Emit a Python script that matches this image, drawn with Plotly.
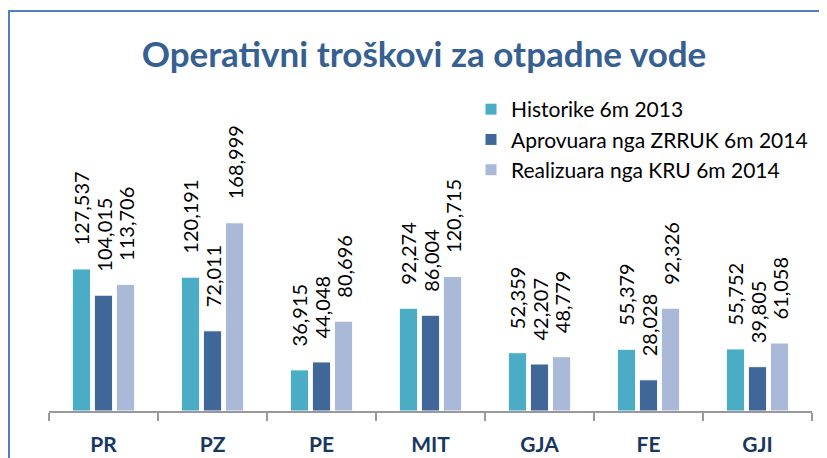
import plotly.graph_objects as go

categories = ["PR", "PZ", "PE", "MIT", "GJA", "FE", "GJI"]
series_names = ["Historike 6m 2013", "Aprovuara nga ZRRUK 6m 2014", "Realizuara nga KRU 6m 2014"]
historike = [127537, 120191, 36915, 92274, 52359, 55379, 55752]
aprovuara = [104015, 72011, 44048, 86004, 42207, 28028, 39805]
realizuara = [113706, 168999, 80696, 120715, 48779, 92326, 61058]
colors = ["#4BACC6", "#3F6898", "#AAB9D8"]

# page body adds an 8px offset; figure coordinates = screen - 8
OFF = 8
W, H = 827 - OFF, 458 - OFF
L, R, T, B = 49 - OFF, 15, 100 - OFF, 47
pw, ph = W - L - R, H - T - B
ymax = ph / 0.0011137

fig = go.Figure()
pad = "\u00a0" * 4
for name, vals, col in zip(series_names, [historike, aprovuara, realizuara], colors):
    fig.add_trace(go.Bar(
        x=categories, y=vals, name=name,
        marker=dict(color=col, line=dict(color="white", width=1)),
        text=[pad + f"{v:,}" for v in vals],
        textposition="outside", textangle=-90, cliponaxis=False,
        constraintext="none",
        textfont=dict(family="Lato", size=20, color="#000000"),
        hoverinfo="skip",
    ))

def px_x(sx):
    return (sx - OFF - L) / pw

def px_y(sy):
    return (H - B - (sy - OFF)) / ph

fig.update_layout(
    width=W, height=H,
    margin=dict(l=L, r=R, t=T, b=B, pad=0, autoexpand=False),
    paper_bgcolor="white", plot_bgcolor="white",
    barmode="group", bargap=0.394, bargroupgap=0.17,
    title=dict(text="<b>Operativni troškovi za otpadne vode</b>",
               font=dict(family="Lato", size=35, color="#376092"),
               x=(424 - OFF) / W, xanchor="center", xref="container",
               y=1 - (55 - OFF) / H, yanchor="middle", yref="container"),
    showlegend=True,
    legend=dict(x=px_x(471), y=px_y(89), xanchor="left", yanchor="top",
                font=dict(family="Lato", size=21, color="#000000"),
                bgcolor="rgba(0,0,0,0)", traceorder="normal"),
    xaxis=dict(showline=True, linecolor="#999999", linewidth=1.5, automargin=False,
               ticks="outside", tickson="boundaries", ticklen=8, tickcolor="#999999",
               tickwidth=1.5, ticklabelstandoff=14,
               tickfont=dict(family="Lato", size=21, color="#17375E", weight="bold"),
               showgrid=False, fixedrange=True),
    yaxis=dict(range=[0, ymax], visible=False, showgrid=False, fixedrange=True,
               automargin=False),
    shapes=[dict(type="rect", xref="paper", yref="paper",
                 x0=px_x(9), x1=px_x(850),
                 y0=px_y(490), y1=px_y(11),
                 line=dict(color="#4F81BD", width=2), fillcolor="rgba(0,0,0,0)",
                 layer="below")],
)

fig.write_html("out.html")
